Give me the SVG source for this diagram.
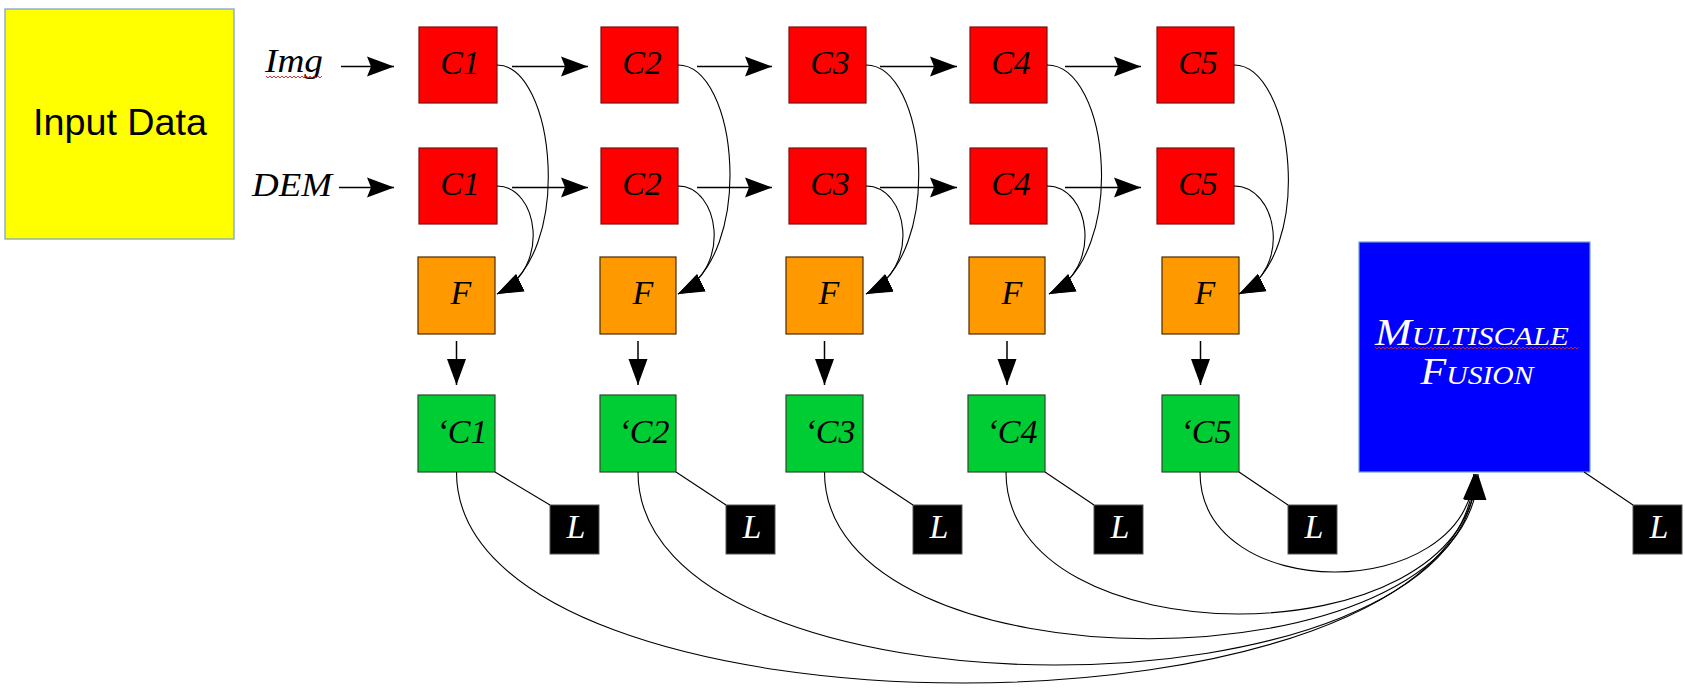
<svg xmlns="http://www.w3.org/2000/svg" width="1685" height="699" viewBox="0 0 1685 699">
<style>
.lbl{font-family:"Liberation Serif","Times New Roman",serif;font-style:italic;font-size:34px;fill:#000;text-anchor:middle}
.wl{font-family:"Liberation Serif","Times New Roman",serif;font-style:italic;font-size:34px;fill:#fff;text-anchor:middle}
.mf{font-family:"Liberation Serif","Times New Roman",serif;font-style:italic;font-variant:small-caps;font-size:37px;fill:#fff;text-anchor:middle}
.red{fill:#ff0000;stroke:#7a1010;stroke-width:1.2}
.org{fill:#ff9900;stroke:#4a2a00;stroke-width:1.2}
.grn{fill:#00cc33;stroke:#2e4a2e;stroke-width:1.2}
.blk{fill:#000;stroke:#555;stroke-width:1}
.ln{fill:none;stroke:#000;stroke-width:1.5}
.cv{fill:none;stroke:#000;stroke-width:1.1}
.sq{fill:none;stroke:#e02020;stroke-width:0.9}
</style>
<defs>
<marker id="ah" markerUnits="userSpaceOnUse" markerWidth="28" markerHeight="22" refX="27" refY="10" orient="auto" viewBox="0 0 28 20">
<path d="M0,0 L27,10 L0,20 L4,10 Z" fill="#000"/>
</marker>
<marker id="av" markerUnits="userSpaceOnUse" markerWidth="28" markerHeight="22" refX="26" refY="9.5" orient="auto" viewBox="0 0 28 19">
<path d="M0,0 L26,9.5 L0,19 Z" fill="#000"/>
</marker>
</defs>
<rect width="1685" height="699" fill="#fff"/>

<g id="input-data">
<rect x="5" y="9" width="229" height="230" fill="#ffff00" stroke="#729fcf" stroke-width="1.2"/>
<text x="120" y="135" font-family="'Liberation Sans',Arial,sans-serif" font-size="37" text-anchor="middle" fill="#000" textLength="174" lengthAdjust="spacingAndGlyphs">Input Data</text>
</g>

<g id="label-img">
<text class="lbl" x="294" y="72" textLength="58" lengthAdjust="spacingAndGlyphs">Img</text>
<path class="sq" d="M266,76 l2,2 l2,-2 l2,2 l2,-2 l2,2 l2,-2 l2,2 l2,-2 l2,2 l2,-2 l2,2 l2,-2 l2,2 l2,-2 l2,2 l2,-2 l2,2 l2,-2 l2,2 l2,-2 l2,2 l2,-2 l2,2 l2,-2 l2,2 l2,-2 l2,2 l2,-2"/>
</g>
<g id="label-dem"><text class="lbl" x="292" y="196" textLength="80" lengthAdjust="spacingAndGlyphs">DEM</text></g>

<g id="c1-img"><rect class="red" x="419" y="27" width="78" height="76"/><text class="lbl" x="460" y="74">C1</text></g>
<g id="c2-img"><rect class="red" x="601" y="27" width="77" height="76"/><text class="lbl" x="642" y="74">C2</text></g>
<g id="c3-img"><rect class="red" x="789" y="27" width="77" height="76"/><text class="lbl" x="830" y="74">C3</text></g>
<g id="c4-img"><rect class="red" x="970" y="27" width="77" height="76"/><text class="lbl" x="1011" y="74">C4</text></g>
<g id="c5-img"><rect class="red" x="1157" y="27" width="77" height="76"/><text class="lbl" x="1198" y="74">C5</text></g>

<g id="c1-dem"><rect class="red" x="419" y="148" width="78" height="76"/><text class="lbl" x="460" y="195">C1</text></g>
<g id="c2-dem"><rect class="red" x="601" y="148" width="77" height="76"/><text class="lbl" x="642" y="195">C2</text></g>
<g id="c3-dem"><rect class="red" x="789" y="148" width="77" height="76"/><text class="lbl" x="830" y="195">C3</text></g>
<g id="c4-dem"><rect class="red" x="970" y="148" width="77" height="76"/><text class="lbl" x="1011" y="195">C4</text></g>
<g id="c5-dem"><rect class="red" x="1157" y="148" width="77" height="76"/><text class="lbl" x="1198" y="195">C5</text></g>

<g id="f1"><rect class="org" x="418" y="257" width="77" height="77"/><text class="lbl" x="461" y="304">F</text></g>
<g id="f2"><rect class="org" x="600" y="257" width="76" height="77"/><text class="lbl" x="643" y="304">F</text></g>
<g id="f3"><rect class="org" x="786" y="257" width="77" height="77"/><text class="lbl" x="829" y="304">F</text></g>
<g id="f4"><rect class="org" x="969" y="257" width="76" height="77"/><text class="lbl" x="1012" y="304">F</text></g>
<g id="f5"><rect class="org" x="1162" y="257" width="77" height="77"/><text class="lbl" x="1205" y="304">F</text></g>

<g id="g1"><rect class="grn" x="418" y="395" width="77" height="77"/><text class="lbl" x="462" y="443">‘C1</text></g>
<g id="g2"><rect class="grn" x="600" y="395" width="76" height="77"/><text class="lbl" x="644" y="443">‘C2</text></g>
<g id="g3"><rect class="grn" x="786" y="395" width="77" height="77"/><text class="lbl" x="830" y="443">‘C3</text></g>
<g id="g4"><rect class="grn" x="968" y="395" width="77" height="77"/><text class="lbl" x="1012" y="443">‘C4</text></g>
<g id="g5"><rect class="grn" x="1162" y="395" width="77" height="77"/><text class="lbl" x="1206" y="443">‘C5</text></g>

<g id="l1"><rect class="blk" x="550" y="505" width="49" height="49"/><text class="wl" x="576" y="538">L</text></g>
<g id="l2"><rect class="blk" x="726" y="505" width="49" height="49"/><text class="wl" x="752" y="538">L</text></g>
<g id="l3"><rect class="blk" x="913" y="505" width="49" height="49"/><text class="wl" x="939" y="538">L</text></g>
<g id="l4"><rect class="blk" x="1094" y="505" width="49" height="49"/><text class="wl" x="1120" y="538">L</text></g>
<g id="l5"><rect class="blk" x="1288" y="505" width="49" height="49"/><text class="wl" x="1314" y="538">L</text></g>
<g id="l6"><rect class="blk" x="1633" y="505" width="49" height="49"/><text class="wl" x="1659" y="538">L</text></g>

<g id="multiscale-fusion">
<rect x="1359" y="242" width="231" height="230" fill="#0000ff" stroke="#729fcf" stroke-width="1.2"/>
<text class="mf" x="1472" y="345" textLength="194" lengthAdjust="spacingAndGlyphs">Multiscale</text>
<text class="mf" x="1477" y="384" textLength="113" lengthAdjust="spacingAndGlyphs">Fusion</text>
<path class="sq" d="M1375,347 l2,2 l2,-2 l2,2 l2,-2 l2,2 l2,-2 l2,2 l2,-2 l2,2 l2,-2 l2,2 l2,-2 l2,2 l2,-2 l2,2 l2,-2 l2,2 l2,-2 l2,2 l2,-2 l2,2 l2,-2 l2,2 l2,-2 l2,2 l2,-2 l2,2 l2,-2 l2,2 l2,-2 l2,2 l2,-2 l2,2 l2,-2 l2,2 l2,-2 l2,2 l2,-2 l2,2 l2,-2 l2,2 l2,-2 l2,2 l2,-2 l2,2 l2,-2 l2,2 l2,-2 l2,2 l2,-2 l2,2 l2,-2 l2,2 l2,-2 l2,2 l2,-2 l2,2 l2,-2 l2,2 l2,-2 l2,2 l2,-2 l2,2 l2,-2 l2,2 l2,-2 l2,2 l2,-2 l2,2 l2,-2 l2,2 l2,-2 l2,2 l2,-2 l2,2 l2,-2 l2,2 l2,-2 l2,2 l2,-2 l2,2 l2,-2 l2,2 l2,-2 l2,2 l2,-2 l2,2 l2,-2 l2,2 l2,-2 l2,2 l2,-2 l2,2 l2,-2 l2,2 l2,-2 l2,2 l2,-2 l2,2 l2,-2 l2,2 l2,-2"/>
</g>

<g id="connectors">
<line class="ln" x1="341" y1="66.5" x2="394" y2="66.5" marker-end="url(#ah)"/>
<line class="ln" x1="512" y1="66.5" x2="588" y2="66.5" marker-end="url(#ah)"/>
<line class="ln" x1="697" y1="66.5" x2="772" y2="66.5" marker-end="url(#ah)"/>
<line class="ln" x1="880" y1="66.5" x2="957" y2="66.5" marker-end="url(#ah)"/>
<line class="ln" x1="1065" y1="66.5" x2="1141" y2="66.5" marker-end="url(#ah)"/>
<line class="ln" x1="339" y1="187.5" x2="394" y2="187.5" marker-end="url(#ah)"/>
<line class="ln" x1="512" y1="187.5" x2="588" y2="187.5" marker-end="url(#ah)"/>
<line class="ln" x1="697" y1="187.5" x2="772" y2="187.5" marker-end="url(#ah)"/>
<line class="ln" x1="880" y1="187.5" x2="957" y2="187.5" marker-end="url(#ah)"/>
<line class="ln" x1="1065" y1="187.5" x2="1141" y2="187.5" marker-end="url(#ah)"/>
<path class="cv" d="M497,65 C555,65 575,255 497,294" marker-end="url(#av)"/>
<path class="cv" d="M497,186 C538,186 552,268 497,294" marker-end="url(#av)"/>
<path class="cv" d="M678,65 C738,65 756,255 678,294" marker-end="url(#av)"/>
<path class="cv" d="M678,186 C719,186 733,268 678,294" marker-end="url(#av)"/>
<path class="cv" d="M866,65 C927,65 945,255 866,294" marker-end="url(#av)"/>
<path class="cv" d="M866,186 C908,186 922,268 866,294" marker-end="url(#av)"/>
<path class="cv" d="M1047,65 C1110,65 1128,255 1049,294" marker-end="url(#av)"/>
<path class="cv" d="M1047,186 C1090,186 1104,268 1049,294" marker-end="url(#av)"/>
<path class="cv" d="M1234,65 C1294,65 1316,255 1239,294" marker-end="url(#av)"/>
<path class="cv" d="M1234,186 C1277,186 1293,268 1239,294" marker-end="url(#av)"/>
<line class="ln" x1="456.5" y1="341" x2="456.5" y2="385" marker-end="url(#av)"/>
<line class="ln" x1="638" y1="341" x2="638" y2="385" marker-end="url(#av)"/>
<line class="ln" x1="824.5" y1="341" x2="824.5" y2="385" marker-end="url(#av)"/>
<line class="ln" x1="1007" y1="341" x2="1007" y2="385" marker-end="url(#av)"/>
<line class="ln" x1="1200.5" y1="341" x2="1200.5" y2="385" marker-end="url(#av)"/>
<line class="cv" x1="495" y1="472" x2="550" y2="505"/>
<line class="cv" x1="676" y1="472" x2="726" y2="505"/>
<line class="cv" x1="863" y1="472" x2="913" y2="505"/>
<line class="cv" x1="1045" y1="472" x2="1094" y2="505"/>
<line class="cv" x1="1239" y1="472" x2="1288" y2="505"/>
<line class="cv" x1="1584" y1="472" x2="1633" y2="505"/>
<path class="cv" d="M456.5,472 C456.5,753 1466,753 1474,474" marker-end="url(#av)"/>
<path class="cv" d="M638,472 C638,729 1468,729 1476,474" marker-end="url(#av)"/>
<path class="cv" d="M824.5,472 C824.5,694 1470,694 1478,474" marker-end="url(#av)"/>
<path class="cv" d="M1006,472 C1006,661 1468,661 1476,474" marker-end="url(#av)"/>
<path class="cv" d="M1200,472 C1200,605 1466,605 1474,474" marker-end="url(#av)"/>
</g>
</svg>
